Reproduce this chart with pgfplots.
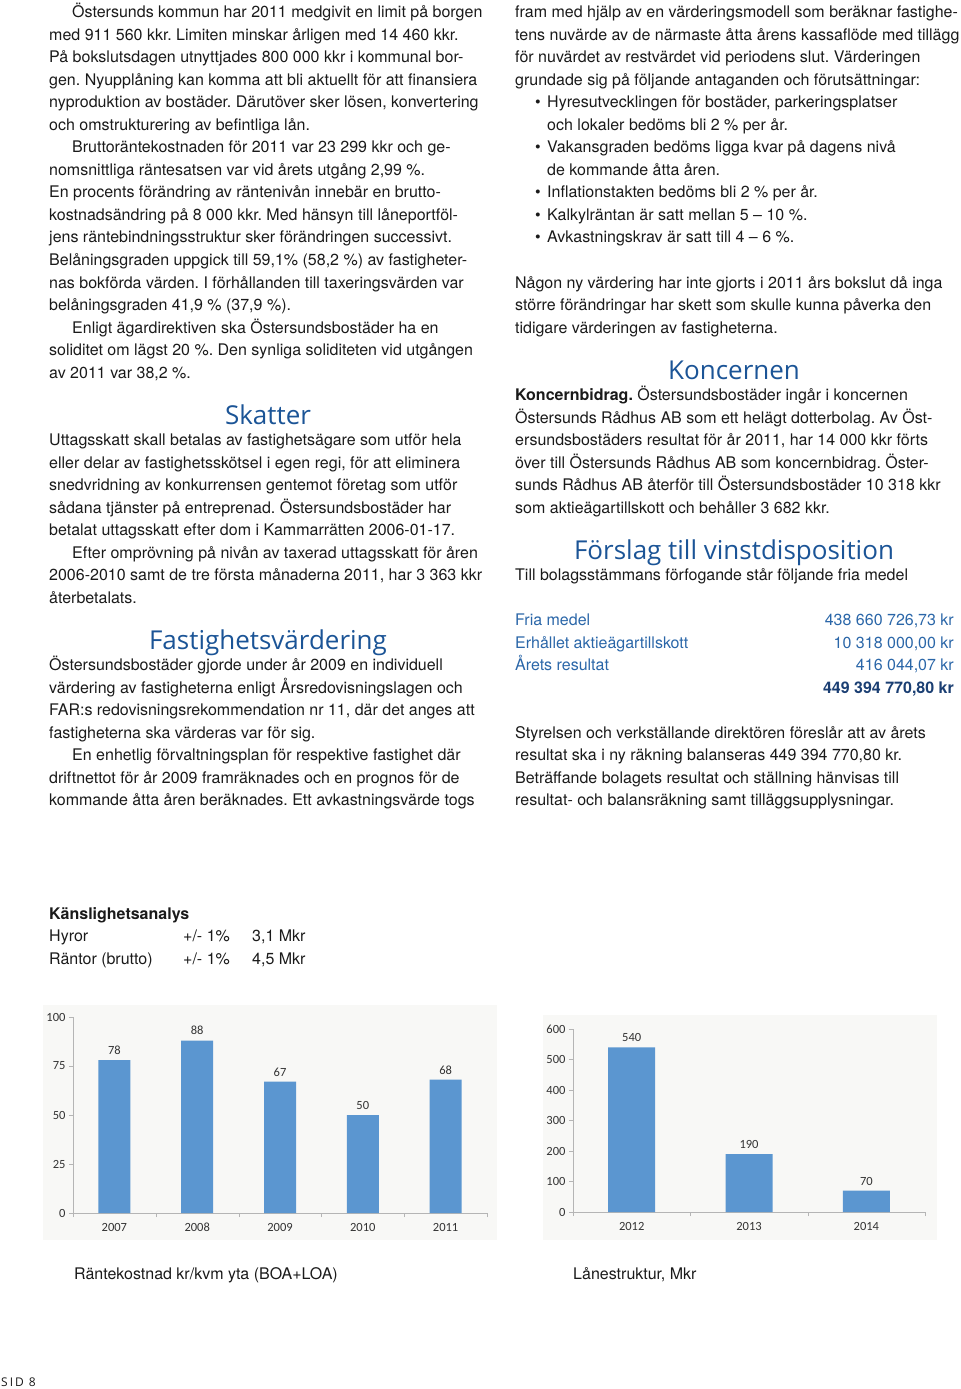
\documentclass[border=0pt]{standalone}
\usepackage{pgfplots}
\pgfplotsset{compat=1.18}
\usepackage{fontspec}
\setmainfont{TeX Gyre Heros}
\newfontfamily\headfont{Open Sans}
\newfontfamily\chartfont{Carlito}
\frenchspacing

\definecolor{txt}{HTML}{1A1A1A}
\definecolor{headblue}{HTML}{1B5496}
\definecolor{lineblue}{HTML}{2A66A8}
\definecolor{navy}{HTML}{1B3F73}
\definecolor{barblue}{HTML}{5B96D0}
\definecolor{axisgray}{HTML}{B5B5B5}
\definecolor{chartbg}{HTML}{F8F8F6}
\definecolor{ticktxt}{HTML}{333333}

\newcommand{\body}{\fontsize{16bp}{22.5bp}\selectfont}
% one line of text, baseline at (x,y)
\newcommand{\tl}[3]{\node[anchor=base west,inner sep=0pt,text=txt,font=\body] at (#1,#2) {#3};}
\newcommand{\head}[3]{\node[anchor=base,inner sep=0pt,text=headblue,font=\headfont\fontsize{26bp}{30bp}\selectfont] at (#1,#2) {#3};}

\pgfplotsset{
  barchart/.style={
    scale only axis,
    axis x line*=bottom,
    axis y line*=left,
    axis line style={axisgray,-},
    ybar,
    bar shift=0pt,
    enlarge x limits=false,
    ymin=0,
    tick align=outside,
    major x tick style={draw=none},
    minor x tick style={axisgray},
    minor tick length=4bp,
    major tick length=4bp,
    ytick style={axisgray},
    tick label style={font=\chartfont\fontsize{12.5bp}{14bp}\selectfont,text=ticktxt},
    /pgf/number format/assume math mode=true,
    nodes near coords,
    every node near coord/.append style={font=\chartfont\fontsize{12.5bp}{14bp}\selectfont,text=ticktxt,yshift=2bp},
    xticklabel style={yshift=-3bp,text height=8bp,text depth=0pt},
  }
}

\begin{document}
\begin{tikzpicture}[x=1bp,y=-1bp]
\path (0,0) rectangle (960,1389);

% ---------------- left column ----------------
\tl{72}{18}{Östersunds kommun har 2011 medgivit en limit på borgen}
\tl{49}{40.5}{med 911 560 kkr. Limiten minskar årligen med 14 460 kkr.}
\tl{49}{63}{På bokslutsdagen utnyttjades 800 000 kkr i kommunal bor-}
\tl{49}{85.5}{gen. Nyupplåning kan komma att bli aktuellt för att finansiera}
\tl{49}{108}{nyproduktion av bostäder. Därutöver sker lösen, konvertering}
\tl{49}{130.5}{och omstrukturering av befintliga lån.}
\tl{72}{153}{Bruttoräntekostnaden för 2011 var 23 299 kkr och ge-}
\tl{49}{175.5}{nomsnittliga räntesatsen var vid årets utgång 2,99 \%.}
\tl{49}{198}{En procents förändring av räntenivån innebär en brutto-}
\tl{49}{220.5}{kostnadsändring på 8 000 kkr. Med hänsyn till låneportföl-}
\tl{49}{243}{jens räntebindningsstruktur sker förändringen successivt.}
\tl{49}{265.5}{Belåningsgraden uppgick till 59,1\% (58,2 \%) av fastigheter-}
\tl{49}{288}{nas bokförda värden. I förhållanden till taxeringsvärden var}
\tl{49}{310.5}{belåningsgraden 41,9 \% (37,9 \%).}
\tl{72}{333}{Enligt ägardirektiven ska Östersundsbostäder ha en}
\tl{49}{355.5}{soliditet om lägst 20 \%. Den synliga soliditeten vid utgången}
\tl{49}{378}{av 2011 var 38,2 \%.}

\head{268}{424}{Skatter}
\tl{49}{445.5}{Uttagsskatt skall betalas av fastighetsägare som utför hela}
\tl{49}{468}{eller delar av fastighetsskötsel i egen regi, för att eliminera}
\tl{49}{490.5}{snedvridning av konkurrensen gentemot företag som utför}
\tl{49}{513}{sådana tjänster på entreprenad. Östersundsbostäder har}
\tl{49}{535.5}{betalat uttagsskatt efter dom i Kammarrätten 2006-01-17.}
\tl{72}{558}{Efter omprövning på nivån av taxerad uttagsskatt för åren}
\tl{49}{580.5}{2006-2010 samt de tre första månaderna 2011, har 3 363 kkr}
\tl{49}{603}{återbetalats.}

\head{268}{649}{Fastighetsvärdering}
\tl{49}{670.5}{Östersundsbostäder gjorde under år 2009 en individuell}
\tl{49}{693}{värdering av fastigheterna enligt Årsredovisningslagen och}
\tl{49}{715.5}{FAR:s redovisningsrekommendation nr 11, där det anges att}
\tl{49}{738}{fastigheterna ska värderas var för sig.}
\tl{72}{760.5}{En enhetlig förvaltningsplan för respektive fastighet där}
\tl{49}{783}{driftnettot för år 2009 framräknades och en prognos för de}
\tl{49}{805.5}{kommande åtta åren beräknades. Ett avkastningsvärde togs}

% ---------------- right column ----------------
\tl{515}{18}{fram med hjälp av en värderingsmodell som beräknar fastighe-}
\tl{515}{40.5}{tens nuvärde av de närmaste åtta årens kassaflöde med tillägg}
\tl{515}{63}{för nuvärdet av restvärdet vid periodens slut. Värderingen}
\tl{515}{85.5}{grundade sig på följande antaganden och förutsättningar:}
\tl{535}{108}{\textbullet}\tl{547}{108}{Hyresutvecklingen för bostäder, parkeringsplatser}
\tl{547}{130.5}{och lokaler bedöms bli 2 \% per år.}
\tl{535}{153}{\textbullet}\tl{547}{153}{Vakansgraden bedöms ligga kvar på dagens nivå}
\tl{547}{175.5}{de kommande åtta åren.}
\tl{535}{198}{\textbullet}\tl{547}{198}{Inflationstakten bedöms bli 2 \% per år.}
\tl{535}{220.5}{\textbullet}\tl{547}{220.5}{Kalkylräntan är satt mellan 5 – 10 \%.}
\tl{535}{243}{\textbullet}\tl{547}{243}{Avkastningskrav är satt till 4 – 6 \%.}
\tl{515}{288}{Någon ny värdering har inte gjorts i 2011 års bokslut då inga}
\tl{515}{310.5}{större förändringar har skett som skulle kunna påverka den}
\tl{515}{333}{tidigare värderingen av fastigheterna.}

\head{734}{379}{Koncernen}
\tl{515}{400.5}{\textbf{Koncernbidrag.} Östersundsbostäder ingår i koncernen}
\tl{515}{423}{Östersunds Rådhus AB som ett helägt dotterbolag. Av Öst-}
\tl{515}{445.5}{ersundsbostäders resultat för år 2011, har 14 000 kkr förts}
\tl{515}{468}{över till Östersunds Rådhus AB som koncernbidrag. Öster-}
\tl{515}{490.5}{sunds Rådhus AB återför till Östersundsbostäder 10 318 kkr}
\tl{515}{513}{som aktieägartillskott och behåller 3 682 kkr.}

\head{734}{559}{Förslag till vinstdisposition}
\tl{515}{580.5}{Till bolagsstämmans förfogande står följande fria medel}

\begin{scope}[every node/.style={inner sep=0pt,font=\body,text=lineblue}]
\node[anchor=base west] at (515,625.5) {Fria medel};
\node[anchor=base west] at (515,648) {Erhållet aktieägartillskott};
\node[anchor=base west] at (515,670.5) {Årets resultat};
\node[anchor=base east] at (954,625.5) {438 660 726,73 kr};
\node[anchor=base east] at (954,648) {10 318 000,00 kr};
\node[anchor=base east] at (954,670.5) {416 044,07 kr};
\node[anchor=base east,text=navy] at (954,693) {\textbf{449 394 770,80 kr}};
\end{scope}

\tl{515}{738}{Styrelsen och verkställande direktören föreslår att av årets}
\tl{515}{760.5}{resultat ska i ny räkning balanseras 449 394 770,80 kr.}
\tl{515}{783}{Beträffande bolagets resultat och ställning hänvisas till}
\tl{515}{805.5}{resultat- och balansräkning samt tilläggsupplysningar.}

% ---------------- sensitivity table ----------------
\tl{49}{919}{\textbf{Känslighetsanalys}}
\tl{49}{941.5}{Hyror}\tl{183}{941.5}{+/- 1\%}\tl{252}{941.5}{3,1 Mkr}
\tl{49}{964}{Räntor (brutto)}\tl{183}{964}{+/- 1\%}\tl{252}{964}{4,5 Mkr}

% ---------------- charts ----------------
\fill[chartbg] (43,1005) rectangle (497,1240);
\fill[chartbg] (543,1015) rectangle (937,1240);

\begin{axis}[barchart,
  at={(73bp,-1213bp)}, anchor=south west,
  width=414bp, height=196bp,
  xmin=-0.5, xmax=4.5, ymax=100,
  bar width=32bp,
  xtick={0,1,2,3,4},
  xticklabels={2007,2008,2009,2010,2011},
  minor xtick={-0.5,0.5,1.5,2.5,3.5,4.5},
  ytick={0,25,50,75,100},
]
\addplot[fill=barblue,draw=none] coordinates {(0,78) (1,88) (2,67) (3,50) (4,68)};
\end{axis}

\begin{axis}[barchart,
  at={(573bp,-1212bp)}, anchor=south west,
  width=352bp, height=183bp,
  xmin=-0.5, xmax=2.5, ymax=600,
  bar width=47bp,
  xtick={0,1,2},
  xticklabels={2012,2013,2014},
  minor xtick={-0.5,0.5,1.5,2.5},
  ytick={0,100,200,300,400,500,600},
]
\addplot[fill=barblue,draw=none] coordinates {(0,540) (1,190) (2,70)};
\end{axis}

\tl{74}{1279}{Räntekostnad kr/kvm yta (BOA+LOA)}
\tl{573}{1279}{Lånestruktur, Mkr}

\node[anchor=base west,inner sep=0pt,text=txt,font=\headfont\fontsize{12bp}{14bp}\selectfont] at (1,1386) {S\,I\,D\, 8};
\end{tikzpicture}
\end{document}
